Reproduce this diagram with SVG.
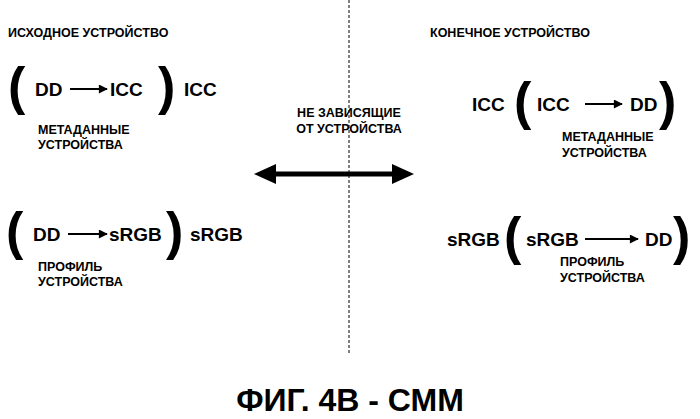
<svg xmlns="http://www.w3.org/2000/svg" width="700" height="419" viewBox="0 0 700 419">
<style>
text{font-family:"Liberation Sans",Arial,sans-serif;font-weight:bold;fill:#000}
.h{font-size:12.5px}.m{font-size:19px}.s{font-size:12.5px}
.p{font-size:52px;font-weight:bold}
.ln{stroke:#000;stroke-width:2;fill:none}
</style>
<defs>
<marker id="a" viewBox="0 0 10 10" refX="9" refY="5" markerWidth="6.5" markerHeight="4.5" markerUnits="strokeWidth" orient="auto"><path d="M0,0L10,5L0,10z"/></marker>
</defs>
<rect width="700" height="419" fill="#fff"/>
<g id="connectors">
<line x1="349" y1="0" x2="349" y2="355" stroke="#000" stroke-width="1" stroke-dasharray="3,2"/>
<path d="M254,174L276,164L276,171.5L392,171.5L392,164L414,174L392,184L392,176.5L276,176.5L276,184Z" fill="#000"/>
<line class="ln" x1="70" y1="89" x2="107" y2="89" marker-end="url(#a)"/>
<line class="ln" x1="585" y1="104" x2="622" y2="104" marker-end="url(#a)"/>
<line class="ln" x1="68" y1="234" x2="107" y2="234" marker-end="url(#a)"/>
<line class="ln" x1="585" y1="239" x2="638" y2="239" marker-end="url(#a)"/>
</g>
<g id="headings">
<text class="h" x="8" y="37">ИСХОДНОЕ УСТРОЙСТВО</text>
<text class="h" x="430" y="37">КОНЕЧНОЕ УСТРОЙСТВО</text>
</g>
<g id="center">
<text class="s" x="349" y="117" text-anchor="middle">НЕ ЗАВИСЯЩИЕ</text>
<text class="s" x="349" y="133" text-anchor="middle">ОТ УСТРОЙСТВА</text>
</g>
<g id="src-icc">
<text class="p" x="8" y="104">(</text>
<text class="m" x="35" y="96">DD</text>
<text class="m" x="110" y="96">ICC</text>
<text class="p" x="158" y="104">)</text>
<text class="m" x="184" y="96">ICC</text>
<text class="s" x="38" y="134">МЕТАДАННЫЕ</text>
<text class="s" x="38" y="149">УСТРОЙСТВА</text>
</g>
<g id="dst-icc">
<text class="m" x="472" y="111">ICC</text>
<text class="p" x="514" y="119">(</text>
<text class="m" x="537" y="111">ICC</text>
<text class="m" x="630" y="111">DD</text>
<text class="p" x="659" y="119">)</text>
<text class="s" x="562" y="141">МЕТАДАННЫЕ</text>
<text class="s" x="562" y="157">УСТРОЙСТВА</text>
</g>
<g id="src-srgb">
<text class="p" x="6" y="249">(</text>
<text class="m" x="33" y="241">DD</text>
<text class="m" x="109" y="241">sRGB</text>
<text class="p" x="166" y="249">)</text>
<text class="m" x="190" y="241">sRGB</text>
<text class="s" x="38" y="271">ПРОФИЛЬ</text>
<text class="s" x="38" y="286">УСТРОЙСТВА</text>
</g>
<g id="dst-srgb">
<text class="m" x="447" y="246">sRGB</text>
<text class="p" x="504" y="254">(</text>
<text class="m" x="526" y="246">sRGB</text>
<text class="m" x="645" y="246">DD</text>
<text class="p" x="673" y="254">)</text>
<text class="s" x="560" y="266">ПРОФИЛЬ</text>
<text class="s" x="560" y="282">УСТРОЙСТВА</text>
</g>
<g id="caption">
<text x="350" y="411" text-anchor="middle" style="font-size:32px">ФИГ. 4В - СММ</text>
</g>
</svg>
